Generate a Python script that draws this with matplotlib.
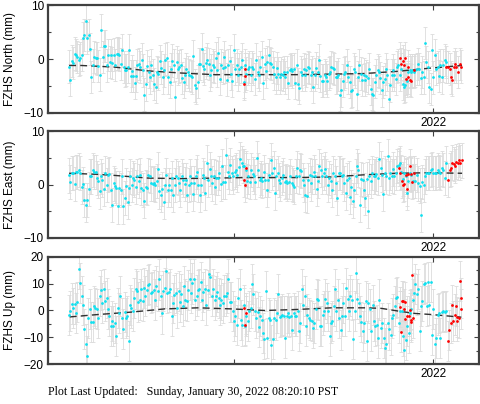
import numpy as np
import matplotlib.pyplot as plt
from matplotlib.ticker import MultipleLocator

# decimal years of the first / last regular (cyan) solution
t_start = 2020.171
t_end = 2022.065

# ---- North (mm), regular solutions in time order
north = [
    -1.4, -3.9, -0.4, -0.7, 1.0, 0.7, 0.4, -0.2, 0.1, 0.7,
    3.9, 4.5, 7.1, 3.9, 4.5, 1.9, -3.3, -1.2, 0.4, 0.2,
    0.1, -1.3, -2.9, 5.3, 0.4, 2.4, 2.4, -1.2, 0.7, -0.6,
    0.7, -0.7, 0.8, -1.1, 1.0, 1.0, 0.8, -0.9, 1.6, -1.5,
    -2.1, -2.0, -1.5, 1.6, -3.2, -2.2, -3.2, -4.4, -3.2, -1.2,
    -0.9, -1.5, -0.1, -2.1, -6.6, -4.7, -1.3, -2.4, -3.4, -1.1,
    -3.0, -4.6, -5.2, -2.4, -2.7, -0.4, -1.6, -3.4, -2.1, -0.1,
    0.1, -3.4, -4.3, -1.8, -0.3, -1.2, -7.0, -0.6, -1.8, -1.4,
    -1.2, -3.5, -4.3, -2.9, -1.8, -2.4, -3.0, -3.2, -3.4, 0.6,
    -4.9, -5.4, -4.2, -0.9, -0.9, 1.9, -1.3, -1.8, -0.7, -0.1,
    -0.9, -3.0, -2.1, -1.2, -1.5, 0.1, -2.1, 1.1, -3.7, -1.2,
    -1.7, 0.4, -1.4, -3.8, -1.2, -0.4, -2.7, -4.0, 1.6, -1.8,
    -1.2, -2.9, -1.8, -1.5, -0.1, -4.3, -1.2, -2.7, -1.8, -1.5,
    -2.9, -1.5, -1.8, -3.7,
    -0.1, -2.4, -3.0, -1.5, 0.4, -4.4, -0.9, -2.3, -0.6, 0.7, -0.7,
    -0.9, -1.5, -2.7, -3.4, -1.7, -2.7, -3.4, -2.7, -3.0, -2.4,
    -3.4, -2.4, -4.4, -2.0, -1.9, -2.3, -1.8, -4.4, -1.2, -4.6,
    -5.3, -2.4, -3.0, -1.8, -2.9, -2.1, -1.5, -1.7, -3.0, -2.4,
    -5.2, -2.9, -1.7, -2.4, -0.2, -3.2, -4.0, -4.0, -3.0, -3.4,
    -4.0, -2.7, -2.4, -1.5, -1.7, -1.8, -3.4, -3.4, -2.9, -6.6,
    -5.8, -4.0, -2.7, -2.4, -1.2, -3.4, -4.3, -6.0, -5.8, -1.9,
    -2.4, -6.5, -3.4, -1.1, -2.7, -3.9, -2.9, -3.8, -3.2, -3.5,
    -1.8, -5.5, -6.5, -6.6, -4.2, -3.0, -2.1, -2.4, -3.5, -5.8,
    -4.3, -3.7, -1.8, -3.0, -7.4, -4.9, -3.0, -2.1, -3.0, -3.7,
    -1.5, -1.2, -3.0, -1.8, -4.6, -5.1, -4.9, -4.0, -2.4, -2.1,
    -2.4, -2.1, -2.4, -2.1, -1.8,
    -0.9, -1.8, -3.5, -2.4, -3.4, 3.0, -0.6, -1.5, -5.1, -5.5,
    1.7, -3.4, 0.7, -1.8, -1.5, -3.2, -1.2, -3.4, -1.2, -0.2, -0.6]
# rapid (red) solutions
north_red_t = [2021.052, 2021.054, 2021.057,
               2021.833, 2021.839, 2021.848, 2021.853, 2021.858, 2021.866,
               2021.873, 2021.874, 2021.883, 2021.891, 2021.903,
               2022.064, 2022.075, 2022.084, 2022.089, 2022.095, 2022.104,
               2022.112, 2022.117, 2022.126, 2022.134, 2022.142]
north_red = [-4.6, -3.1, -1.8,
             0.2, -0.9, -0.4, -1.1, 0.1, -3.7, -3.4, -1.4, -3.8, -4.0, -2.1,
             -1.5, -1.5, -1.8, -3.4, -3.8, -1.5, -0.9, -1.5, -2.4, -0.9, -1.4]
north_trend_t = [2020.171, 2020.233, 2020.40, 2020.568, 2020.735, 2020.903, 2021.07,
                 2021.313, 2021.481, 2021.648, 2021.816, 2021.983, 2022.146]
north_trend = [-1.2, -1.2, -1.5, -2.2, -2.6, -2.9, -2.9, -2.9, -2.8, -2.7, -2.3, -1.7, -1.2]

# ---- East (mm)
east = [
    1.7, 0.4, 2.2, 2.1, 0.1, 2.3, 2.4, 2.7, 2.1, -0.5,
    0.1, -2.9, -3.8, -2.9, -0.9, 1.5, 1.5, 2.7, 2.4, 2.3,
    1.2, 0.6, -1.3, 1.5, 0.9, -0.9, 2.1, -0.1, 1.8, 2.0,
    -1.0, -3.8, 0.2, -0.2, -0.7, -4.1, -0.6, -1.0, 1.5, -4.1,
    -2.5, -0.2, -3.2, -0.6, 1.5, -0.1, 1.2, 0.9, -0.4, 1.5,
    0.6, 1.8, -0.7, -1.0, -3.0, -0.4, -0.7, 1.8, 1.6, 0.2,
    0.1, 0.2, -0.1, 0.6, 2.9, -1.3, -1.9, -0.9, -3.2, -0.1,
    1.8, -1.0, -0.1, -1.0, 1.2, -1.9, -0.1, 1.5, 1.2, 0.2,
    -1.0, 1.5, 0.9, 0.1, 0.9, -1.9, -0.1, 1.5, 0.2, -1.8,
    0.2, 1.5, 2.3, -0.1, -1.9, -0.1, 1.8, 1.2, -1.6, 4.1,
    0.9, 2.9, 1.5, 0.2, 1.5, -0.4, 1.3, 1.2, 2.1, 0.1,
    3.5, 0.4, 0.4, 5.5, 2.4, 1.5, 3.7, 2.2, 1.5, 2.3,
    2.7, 1.8, 3.2, 4.7, 4.0, 3.5, 3.4, 2.7, 0.6, 1.5,
    0.4, 2.7,
    2.0, 1.5, 0.4, 4.9, 2.7, 0.9, 1.2, 0.6, 2.4, 0.9, -1.0, 0.9,
    1.8, 4.5, 2.1, 3.0, -1.6, 1.5, 2.1, 0.9, 0.2, 1.2,
    1.8, 0.4, 0.6, 0.2, 0.4, 1.5, 0.2, -0.1, -0.4, 1.6,
    3.0, 1.5, 2.7, 2.5, 0.9, -0.1, -1.9, -2.2, 0.9, 1.8,
    0.2, 1.5, 2.4, 1.5, -0.9, 0.6, 3.5, 2.7, 1.5, 2.1,
    2.9, 1.5, -0.1, 1.2, 0.6, -1.0, 2.1, 1.5, 0.2, -2.5,
    2.1, 2.2, 1.5, 1.8, 0.2, -1.6, 0.9, 1.2, -2.4, -0.4,
    -3.0, -1.0, 1.5, 3.5, 2.7, -3.9, 1.0, 0.9, -1.0, -2.5,
    1.0, -5.0, 1.5, 0.6, 2.2, 1.5, 1.5, 2.0, 1.2, 4.8,
    3.0, 1.8, -1.8, 2.1, 1.5, 5.4, 1.2, 2.1, 1.6, 2.9,
    1.5, 2.2, 3.4, 3.7, 4.0, 2.4, 1.0, 2.1, 1.5, -1.5,
    0.6, 2.1, 1.8, 0.6, 2.2, 0.6,
    1.8, 0.2, -0.2, -5.7, 0.4, -0.1, 1.5, 2.1, 2.2, 2.1,
    2.7, 2.9, 2.1, 2.1, 2.1, 2.7, 2.4, 2.1, 3.0, 2.7, 1.2, 4.0]
east_red_t = [2021.052, 2021.055, 2021.058,
              2021.829, 2021.836, 2021.843, 2021.849, 2021.856, 2021.863,
              2021.869, 2021.876, 2021.883, 2021.889, 2021.896, 2021.903,
              2022.077, 2022.084, 2022.092, 2022.097, 2022.104, 2022.111,
              2022.117, 2022.124, 2022.131, 2022.137, 2022.144]
east_red = [0.9, -0.1, 3.0,
            3.0, 2.2, 0.7, -0.1, 0.1, 1.8, -0.9, 2.0, 3.5, 2.0, 0.4, 2.1,
            0.9, 2.7, 3.0, 4.1, 3.9, 3.5, 4.3, 4.0, 4.6, 4.1, 4.5]
east_trend_t = [2020.171, 2020.317, 2020.40, 2020.568, 2020.735, 2020.903, 2021.07,
                2021.313, 2021.481, 2021.648, 2021.816, 2021.983, 2022.146]
east_trend = [2.1, 1.9, 1.7, 1.2, 1.1, 1.2, 1.3, 1.3, 1.4, 1.8, 2.1, 2.2, 2.1]

# ---- Up (mm)
up = [
    -1.8, -0.2, 2.6, 1.0, 2.6, -0.9, 3.1, 15.6, 10.4, 5.4,
    2.2, -6.8, -12.5, -17.1, -2.8, 0.6, -4.4, -4.4, 1.6, 1.0,
    0.4, -2.8, 5.4, 7.5, 2.9, 7.9, 3.5, 4.8, 0.4, -2.1,
    -5.9, -4.0, -5.9, -4.6, -9.6, 1.0, -0.9, 5.4, -2.8, -6.9,
    -0.6, -2.8, -2.1, -11.5, 2.2, 1.0, -0.2, 4.8, 8.1, 7.3,
    3.1, 4.1, 7.9, 3.5, 8.5, 5.4, 7.6, 9.4, 9.8, 6.6,
    6.9, 7.6, 4.1, 9.1, 7.3, 11.6, 5.6, -1.1, 7.3, 8.5,
    14.8, 6.4, 6.9, 7.9, -1.9, 2.9, 5.8, 6.6, 1.0, 7.3,
    3.1, 6.3, 1.6, 9.1, 4.1, 3.5, 7.6, 11.6, 6.6, 10.1,
    11.9, 4.1, 5.6, 7.6, 7.9, 10.6, 4.1, 6.9, 8.1, 1.9,
    7.6, 13.5, 12.6, 5.6, 7.9, 4.1, 5.4, 6.9, 4.8, 1.9,
    4.1, 2.9, 5.6, 5.6, 6.4, 11.9, 3.1, 3.1, -0.2, -4.0,
    -1.9, -5.5, 4.8, 7.9, -3.4, -5.6, 1.9, -5.9, -2.1, -4.0,
    -0.2, 1.0,
    9.8, 6.0, -0.2, -2.8, -0.6, -6.1, -1.9, -3.4, -8.4, -10.6,
    7.3, -10.3, -2.8, -3.4, -12.8, -10.6, -2.8, -3.4, -0.9, 6.0,
    -2.4, -1.9, -1.5, -2.1, -10.3, -2.1, -0.9, -2.4, -1.9, -7.4,
    -0.9, -1.9, -2.1, -0.2, -7.8, -4.6, 7.9, 1.9, 5.4, -5.9,
    -1.5, -2.8, -3.4, -4.0, -6.5, -4.6, 0.4, 4.4, 3.8, -5.9,
    -5.9, -1.5, -0.2, 4.4, 2.9, -0.2, -9.6, -4.6, -4.0, 1.6,
    7.9, -0.2, 4.1, -2.8, -7.4, -2.1, 2.9, -2.1, 8.5, 4.4,
    -0.2, 5.6, 4.1, -10.6, -0.2, 14.1, 4.4, 2.9, -1.9, -4.4,
    -7.8, -4.6, 3.5, -11.5, 2.9, 0.6, -7.8, 1.9, -4.0, -5.9,
    -5.3, -10.3, 4.1, -6.5, -4.6, -10.3, -14.0, -12.4, -4.6, -7.1,
    -9.0, -2.8, -1.5, 1.6, 4.8, 5.1, -4.6, -0.2, -0.2, -9.6,
    -14.9, -10.9, -5.9, -8.4, -0.9, 0.4,
    4.1, 6.6, 9.8, 6.0, 7.9, -7.8, 1.6, 3.5, 9.8, 10.4,
    1.6, 10.6, 1.9, 10.6, -9.0, 0.4, -12.4, -10.3, -1.5, -0.9,
    -10.3, -0.6, -0.2, -0.6, -0.2]
up_red_t = [2021.052, 2021.057, 2021.060,
            2021.832, 2021.838, 2021.844, 2021.851, 2021.854, 2021.858, 2021.861,
            2021.871, 2021.878, 2021.884, 2021.888, 2021.891, 2021.896, 2021.899,
            2022.075, 2022.082, 2022.089, 2022.095, 2022.102, 2022.109, 2022.116,
            2022.119, 2022.122, 2022.129, 2022.136, 2022.139, 2022.142]
up_red = [0.8, -5.5, -1.1,
          1.4, -8.1, 3.5, 3.5, 0.6, 3.1, -3.1, -1.9, -1.9, 0.1, -3.4, -4.4, 13.3, -2.8,
          -11.5, -7.4, -4.6, 1.9, -4.0, -1.5, 1.6, -2.5, -4.0, -2.8, 11.0, 0.4, 4.8]
up_trend_t = [2020.174, 2020.317, 2020.484, 2020.652, 2020.819, 2020.987, 2021.154,
              2021.322, 2021.489, 2021.657, 2021.740, 2021.824, 2021.908, 2021.991, 2022.142]
up_trend = [-2.4, -1.5, -0.6, 0.6, 1.0, 0.6, 0.0, 0.4, 1.0, 1.0, 0.8, -0.2, -1.1, -1.5, -2.5]

# one-sigma error bars (mm)
sig_north = 3.0
sig_east = 3.2
sig_up = 7.5

year_ticks = [2021, 2022]
year_labels = ["", "2022"]

plt.rcParams['font.family'] = ['Liberation Sans', 'DejaVu Sans']
spine_col = "#404040"


def draw_panel(ax, vals, red_t, red_v, tr_t, tr_v, sig, lim, step, ylabel):
    t = np.linspace(t_start, t_end, len(vals))
    bar = dict(fmt='none', ecolor='#dcdcdc', elinewidth=0.6, capsize=1.2, capthick=0.6, zorder=1)
    ax.errorbar(t, vals, yerr=sig, **bar)
    ax.errorbar(red_t, red_v, yerr=sig, **bar)
    ax.plot(tr_t, tr_v, color='#303030', ls=(0, (5, 3)), lw=1.0, zorder=2)
    ax.plot(t, vals, 'o', ms=2.0, mec='none', color='#10e0f0', zorder=3)
    ax.plot(red_t, red_v, 'o', ms=2.0, mec='none', color='#ff0000', zorder=4)

    ax.set_xlim(2020.065, 2022.231)
    ax.set_ylim(-lim, lim)
    ax.set_xticks(year_ticks)
    ax.set_xticklabels(year_labels)
    ax.yaxis.set_major_locator(MultipleLocator(step))
    ax.yaxis.set_minor_locator(MultipleLocator(5))
    ax.tick_params(which='both', direction='in', top=True, right=True,
                   color=spine_col, labelsize=8.5, pad=3)
    ax.tick_params(which='major', length=3.5, width=0.8)
    ax.tick_params(which='minor', length=2.5, width=0.8)
    for s in ax.spines.values():
        s.set_linewidth(1.6)
        s.set_color(spine_col)
    ax.set_ylabel(ylabel, fontsize=8.5)
    ax.yaxis.set_label_coords(-0.075, 0.5)


fig = plt.figure(figsize=(4.81, 4.04), dpi=100)
ax1 = fig.add_axes([0.0998, 0.7203, 0.896, 0.2673])
ax2 = fig.add_axes([0.0998, 0.4109, 0.896, 0.2648])
ax3 = fig.add_axes([0.0998, 0.0990, 0.896, 0.2649])

draw_panel(ax1, north, north_red_t, north_red, north_trend_t, north_trend, sig_north, 10, 10, "FZHS North (mm)")
draw_panel(ax2, east, east_red_t, east_red, east_trend_t, east_trend, sig_east, 10, 10, "FZHS East (mm)")
draw_panel(ax3, up, up_red_t, up_red, up_trend_t, up_trend, sig_up, 20, 10, "FZHS Up (mm)")

fig.text(0.0998, 0.015, "Plot Last Updated:   Sunday, January 30, 2022 08:20:10 PST",
         family=['Liberation Serif', 'DejaVu Serif'], fontsize=8.6, ha='left', va='bottom')

fig.savefig("out.png", dpi=100)
